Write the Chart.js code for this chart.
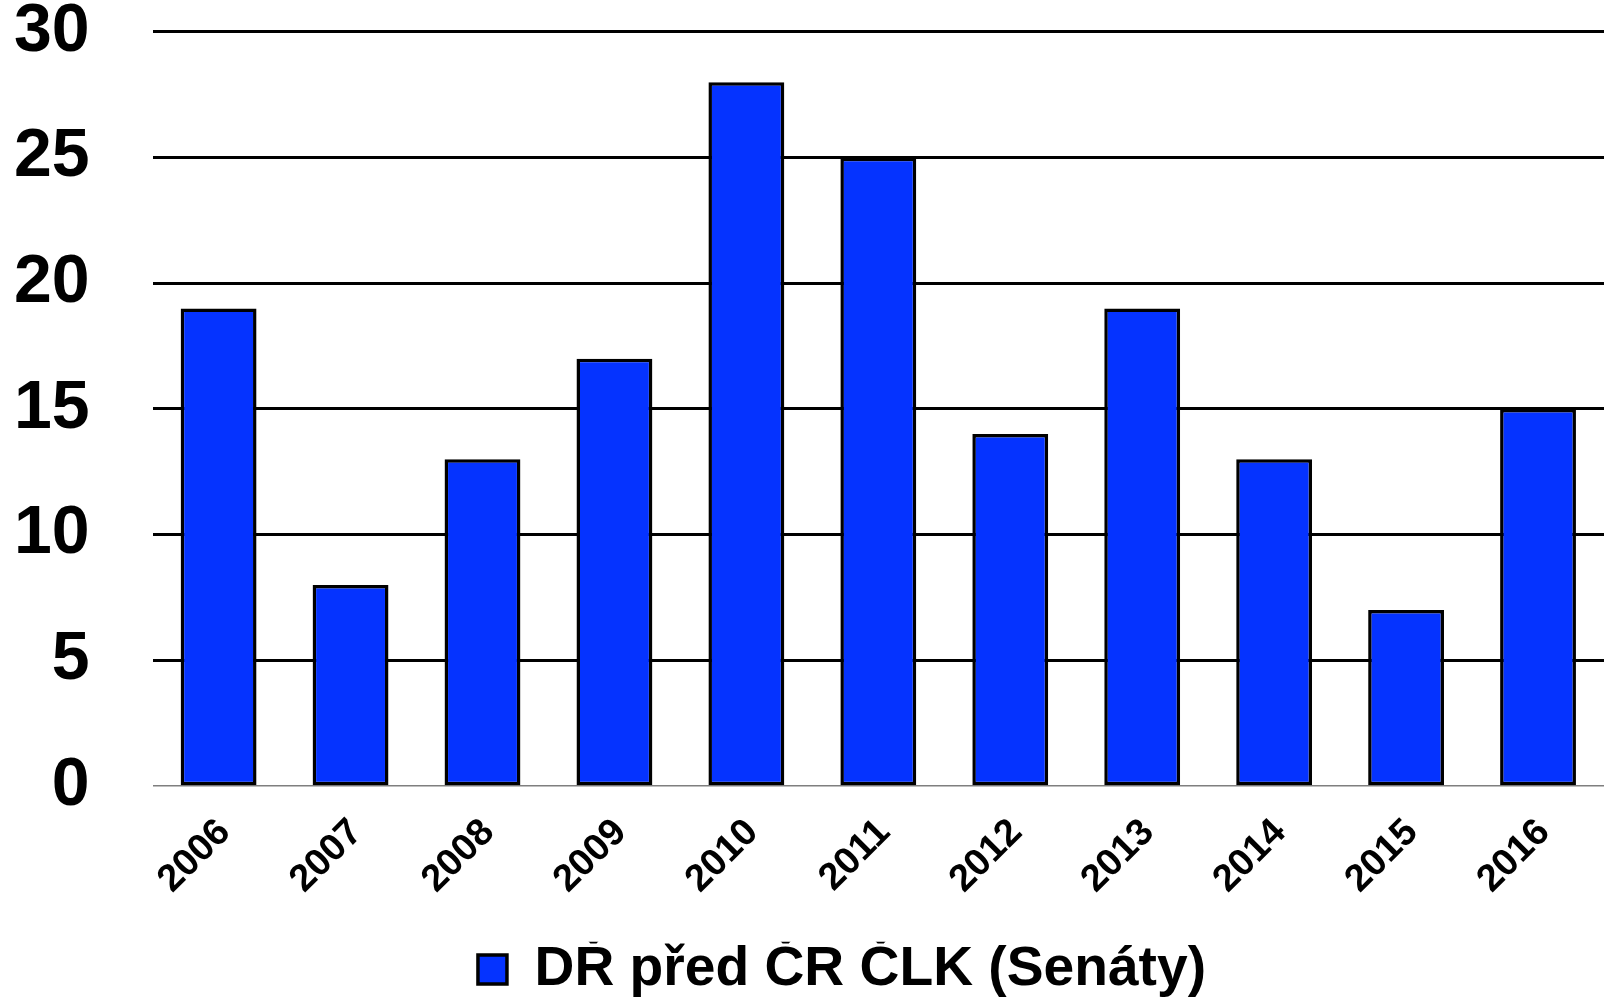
<!DOCTYPE html>
<html>
<head>
<meta charset="utf-8">
<script src="https://cdn.jsdelivr.net/npm/chart.js@4"></script>
<style>
  html, body { margin: 0; padding: 0; background: #fff; }
  #wrap { width: 1604px; height: 1001px; }
</style>
</head>
<body>
<div id="wrap"><canvas id="myChart" width="1604" height="1001"></canvas></div>
<script>
// data
const roky = ['2006', '2007', '2008', '2009', '2010', '2011', '2012', '2013', '2014', '2015', '2016'];
const senaty = [19, 8, 13, 17, 28, 25, 14, 19, 13, 7, 15];
const nazevRady = 'DŘ před ČR ČLK (Senáty)';

// posune legendu trochu doprava a dolu (v originale neni uplne na stredu)
const posunLegendy = {
    id: 'posunLegendy',
    afterLayout(chart) {
        chart.legend.left += 33;
        chart.legend.right += 33;
        chart.legend.top += 6;
        chart.legend.bottom += 6;
    }
};

const ctx = document.getElementById('myChart').getContext('2d');
const myChart = new Chart(ctx, {
    type: 'bar',
    data: {
        labels: roky,
        datasets: [{
            label: nazevRady,
            data: senaty,
            backgroundColor: '#0533ff',
            borderColor: '#000000',
            borderWidth: 3.5,
            borderSkipped: false,
            barPercentage: 0.575,
            categoryPercentage: 1
        }]
    },
    options: {
        responsive: false,
        animation: false,
        events: [],
        layout: {
            padding: { top: 0, right: 0, bottom: 0, left: 14 }
        },
        plugins: {
            tooltip: { enabled: false },
            legend: {
                display: true,
                position: 'bottom',
                labels: {
                    color: '#000',
                    boxWidth: 29,
                    boxHeight: 29,
                    padding: 0,
                    font: { family: 'Liberation Sans, Arial, sans-serif', size: 55.2, weight: 'bold' }
                }
            }
        },
        scales: {
            x: {
                // mezera pod osou pres neviditelne ticky (padding by posunul graf)
                grid: { display: true, drawOnChartArea: false, drawTicks: true, tickLength: 27, tickColor: 'rgba(0,0,0,0)', color: 'rgba(0,0,0,0)' },
                border: { display: false },
                // prazdny titulek jen kvuli mezere nad legendou
                title: { display: true, text: ' ', font: { size: 1 }, padding: { top: 0, bottom: 35 } },
                ticks: {
                    color: '#000',
                    autoSkip: false,
                    maxRotation: 45,
                    minRotation: 45,
                    padding: 0,
                    labelOffset: 6,
                    font: { family: 'Liberation Sans, Arial, sans-serif', size: 38, weight: 'bold', lineHeight: 1 }
                }
            },
            y: {
                min: 0,
                max: 30,
                border: { display: false },
                grid: {
                    drawTicks: true,
                    tickLength: 63,
                    tickColor: 'rgba(0,0,0,0)',
                    color: (c) => c.tick && c.tick.value === 0 ? '#7f7f7f' : '#000',
                    lineWidth: (c) => c.tick && c.tick.value === 0 ? 1.5 : 3
                },
                ticks: {
                    stepSize: 5,
                    color: '#000',
                    padding: 0,
                    font: { family: 'Liberation Sans, Arial, sans-serif', size: 68, weight: 'bold', lineHeight: 0.94 }
                }
            }
        }
    },
    plugins: [posunLegendy]
});
</script>
</body>
</html>
